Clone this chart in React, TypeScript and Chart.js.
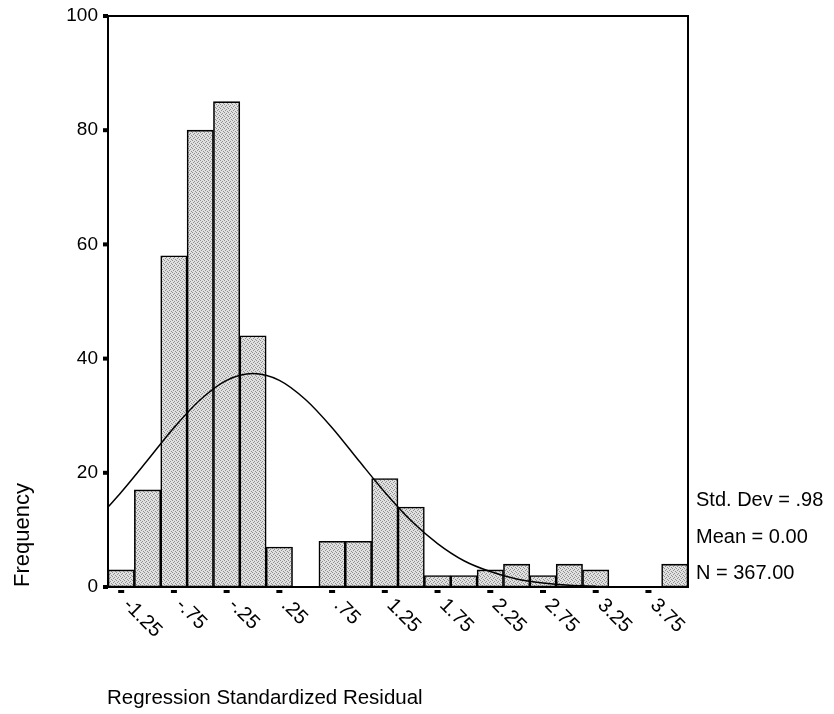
import React, { useEffect, useRef } from "react";
import { Chart, registerables } from "chart.js";

Chart.register(...registerables);

// ---- data ----
const binCenters = [-1.25, -1.0, -0.75, -0.5, -0.25, 0, 0.25, 0.5, 0.75, 1.0, 1.25, 1.5, 1.75, 2.0, 2.25, 2.5, 2.75, 3.0, 3.25, 3.5, 3.75, 4.0];
const frequencies = [3, 17, 58, 80, 85, 44, 7, 0, 8, 8, 19, 14, 2, 2, 3, 4, 2, 4, 3, 0, 0, 4];

const curveX = [-1.375, -1.25, -1.0, -0.75, -0.5, -0.25, 0, 0.25, 0.5, 0.75, 1.0, 1.25, 1.5, 1.75, 2.0, 2.25, 2.5, 2.75, 3.0, 3.25];
const curveY = [14.0, 16.6, 22.2, 27.9, 32.8, 36.2, 37.4, 36.2, 32.8, 27.9, 22.2, 16.6, 11.6, 7.6, 4.6, 2.7, 1.4, 0.7, 0.3, 0.15];

const xTickValues = [-1.25, -0.75, -0.25, 0.25, 0.75, 1.25, 1.75, 2.25, 2.75, 3.25, 3.75];
const xTickLabels = ["-1.25", "-.75", "-.25", ".25", ".75", "1.25", "1.75", "2.25", "2.75", "3.25", "3.75"];
const yTickValues = [0, 20, 40, 60, 80, 100];

const statsLines = ["Std. Dev = .98", "Mean = 0.00", "N = 367.00"];
const xTitle = "Regression Standardized Residual";
const yTitle = "Frequency";

const FONT = '"Liberation Sans", Arial, Helvetica, sans-serif';

function makePattern(ctx: CanvasRenderingContext2D) {
  const c = document.createElement("canvas");
  c.width = 4;
  c.height = 4;
  const g = c.getContext("2d")!;
  g.fillStyle = "#e0e0e0";
  g.fillRect(0, 0, 4, 4);
  g.fillStyle = "#909090";
  [[0, 0], [2, 1], [1, 2], [3, 3]].forEach(([a, b]) => g.fillRect(a, b, 1, 1));
  return ctx.createPattern(c, "repeat") as CanvasPattern;
}

const decorPlugin = {
  id: "decor",
  afterDraw(chart: any) {
    const { ctx, chartArea } = chart;
    const { left, right, top, bottom } = chartArea;
    const xs = chart.scales.x;
    const ys = chart.scales.y;
    ctx.save();
    // frame
    ctx.strokeStyle = "#000";
    ctx.lineWidth = 2;
    ctx.strokeRect(left, top, right - left, bottom - top);
    // y tick squares
    ctx.fillStyle = "#000";
    yTickValues.forEach((v) => {
      const py = ys.getPixelForValue(v);
      ctx.fillRect(left - 5, py - 2, 5, 4);
    });
    // x tick dashes
    xTickValues.forEach((v) => {
      const px = xs.getPixelForValue(v);
      ctx.fillRect(px - 3, bottom + 3, 6, 3);
    });
    // x tick labels rotated clockwise
    ctx.font = `20px ${FONT}`;
    ctx.textAlign = "left";
    ctx.textBaseline = "middle";
    xTickValues.forEach((v, i) => {
      const px = xs.getPixelForValue(v);
      ctx.save();
      ctx.translate(px + 5, bottom + 15);
      ctx.rotate(Math.PI / 4);
      ctx.fillText(xTickLabels[i], 0, 0);
      ctx.restore();
    });
    // stats
    ctx.font = `20px ${FONT}`;
    ctx.textBaseline = "alphabetic";
    statsLines.forEach((s, i) => {
      ctx.fillText(s, right + 8, 506 + i * 36.5);
    });
    // x title
    ctx.font = `20.5px ${FONT}`;
    ctx.fillText(xTitle, 107, 704);
    // y title
    ctx.save();
    ctx.font = `22px ${FONT}`;
    ctx.translate(23, 535);
    ctx.rotate(-Math.PI / 2);
    ctx.textAlign = "center";
    ctx.textBaseline = "middle";
    ctx.fillText(yTitle, 0, 0);
    ctx.restore();
    ctx.restore();
  },
};

export default function App() {
  const ref = useRef<HTMLCanvasElement | null>(null);

  useEffect(() => {
    const canvas = ref.current!;
    const ctx = canvas.getContext("2d")!;
    const pattern = makePattern(ctx);
    const chart = new Chart(ctx, {
      type: "bar",
      data: {
        datasets: [
          {
            type: "line",
            data: curveX.map((x, i) => ({ x, y: curveY[i] })),
            borderColor: "#000",
            borderWidth: 1.5,
            pointRadius: 0,
            cubicInterpolationMode: "monotone",
            fill: false,
            order: 0,
          } as any,
          {
            type: "bar",
            data: binCenters.map((x, i) => ({ x, y: frequencies[i] })),
            backgroundColor: pattern,
            borderColor: "#000",
            borderWidth: 1.6,
            borderSkipped: false,
            barPercentage: 1,
            categoryPercentage: 1,
            order: 1,
          } as any,
        ],
      },
      options: {
        responsive: false,
        animation: false,
        devicePixelRatio: 1,
        layout: { padding: { top: 16, right: 146, left: 0, bottom: 0 } },
        plugins: { legend: { display: false }, tooltip: { enabled: false } },
        scales: {
          x: {
            type: "linear",
            min: -1.375,
            max: 4.125,
            offset: false,
            grid: { display: false, offset: false },
            border: { display: false },
            ticks: { display: false },
            afterFit: (s: any) => {
              s.height = 127;
              s.paddingLeft = 0;
              s.paddingRight = 0;
            },
          },
          y: {
            type: "linear",
            min: 0,
            max: 100,
            grid: { display: false, drawTicks: false },
            border: { display: false },
            ticks: {
              stepSize: 20,
              padding: 10,
              color: "#000",
              font: { family: FONT, size: 19 },
            },
            afterFit: (s: any) => {
              s.width = 108;
              s.paddingTop = 0;
              s.paddingBottom = 0;
            },
          },
        },
      } as any,
      plugins: [decorPlugin],
    });
    return () => chart.destroy();
  }, []);

  return (
    <div style={{ position: "absolute", left: 0, top: 0, width: 834, height: 714, background: "#fff" }}>
      <canvas ref={ref} width={834} height={714} style={{ width: 834, height: 714, display: "block" }} />
    </div>
  );
}
